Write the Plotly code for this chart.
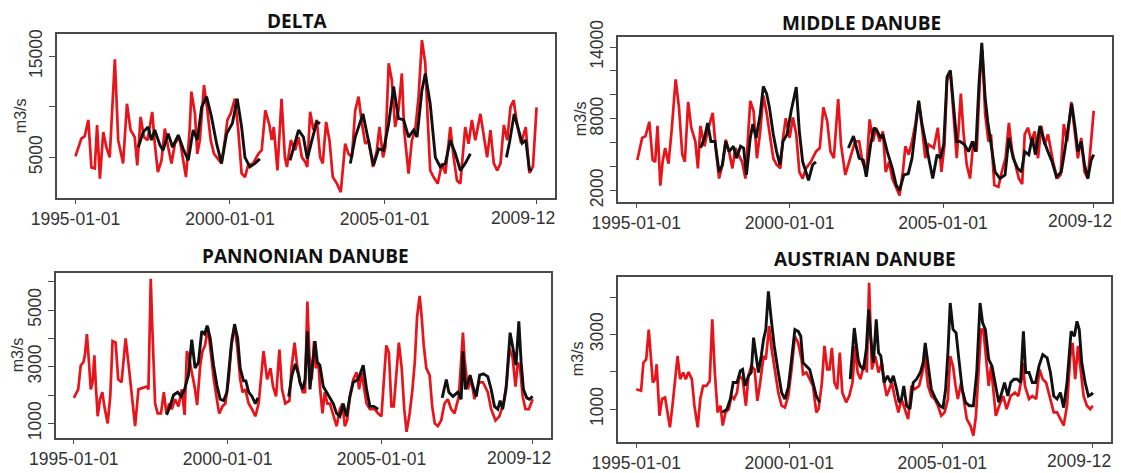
import numpy as np
import pandas as pd
import plotly.graph_objects as go

# ---------------- data (month offsets from 1995-01, discharge m3/s) ----------------
START = "1995-01-01"
END = "2009-12-01"

panel_titles = ["DELTA", "MIDDLE DANUBE", "PANNONIAN DANUBE", "AUSTRIAN DANUBE"]
x_tick_dates = ["1995-01-01", "2000-01-01", "2005-01-01", "2009-12-01"]
# the last label ("2009-12-01") is cut at the panel edge in the original: only "2009-12" shows
x_tick_text = ["1995-01-01", "2000-01-01", "2005-01-01", ""]
last_tick_label = "2009-12"

# DELTA simulated (red)
delta_sim_m = [0, 2.3, 3.6, 5, 6.2, 7.5, 8.4, 9.5, 10.8, 12, 13.3, 15.3, 16.6, 18.5, 20, 21.4, 23, 24, 25.3, 26.6, 28,
               29.8, 30.8, 32, 33.4, 34.7, 36, 37.3, 38.6, 40.3, 41.2, 42.9, 44.4, 45, 46.4, 47.3, 48.3, 49.9, 51.2,
               52.5, 53.8, 55, 56.7, 58, 59, 60.2, 61.9, 63.2, 64.5, 65.8, 67, 69, 71, 72.3, 73.7, 75.3, 76.2, 77,
               78.4, 80, 81.3, 82.1, 83.6, 85.3, 86.6, 87.9, 89.2, 90, 91.1, 92.4, 93.7, 95, 96, 97.3, 98.6, 99.9,
               101.5, 103, 104.7, 106, 107.3, 108.6, 109.9, 111.2, 112.5, 113.8, 115.5, 117, 118, 119.4, 120.3,
               121.6, 122.8, 124.1, 125.4, 126.7, 127.6, 129.3, 130.6, 131.9, 133.2, 134.5, 135.8, 136.7, 137.7,
               139, 140.6, 142.3, 143.6, 145.5, 146.8, 148.1, 149.4, 151.3, 152.6, 153.9, 155.2, 157.2, 158.5,
               159.8, 161.1, 162.4, 163.7, 165, 166.3, 167.6, 168.9, 170.1, 171.4, 173, 174.8, 176.2, 177.6, 179]
delta_sim_v = [5100, 6850, 7100, 8700, 4000, 3900, 8200, 2900, 7500, 6000, 5000, 14700, 6700, 4400, 10300, 7700, 7000,
               4200, 9000, 7000, 6700, 9500, 6350, 3550, 4700, 7850, 6000, 4400, 6350, 7000, 5700, 3050, 8000, 11500,
               9300, 5350, 6700, 12150, 9650, 6700, 5350, 5000, 4400, 6700, 8700, 9300, 10800, 7700, 3400, 3050, 4200,
               4400, 5350, 5700, 9650, 8200, 6700, 8000, 3700, 10800, 5000, 4050, 6700, 5700, 7000, 5000, 4550, 4050,
               9500, 7700, 8700, 5000, 4400, 8500, 6700, 3050, 2400, 1550, 6350, 5350, 5000, 9650, 11000, 8350, 6350,
               6700, 4050, 5700, 8000, 5000, 6000, 14300, 12650, 8000, 9650, 13300, 7700, 3400, 6700, 7700, 11000,
               16600, 14300, 9000, 3700, 3050, 2400, 4400, 3400, 8000, 5000, 2700, 2400, 8000, 6350, 8700, 6700, 9300,
               7350, 5000, 7700, 4400, 3700, 4400, 8200, 6700, 10000, 10650, 8350, 6400, 8000, 3450, 4100, 9950]
# DELTA observed (black), separate segments
delta_obs_m = [
    [24.4, 26.3, 28.2, 29.5, 30.8, 32.8, 34, 36, 37.7, 39.9, 41.8, 43.8, 45.7, 47.3, 49, 50.9, 52.8, 54.8, 56.7, 58.7,
     60.9, 62.8, 64.5, 65.8, 67.7, 69.7, 71.6],
    [83.3, 86.6, 88.5, 90, 91.8, 93.7, 95],
    [106.7, 108.6, 111.6, 113.8, 115.7, 117.7, 119.6, 121.6, 123.5, 125.4, 127.4, 129.3, 131.3, 132.6, 134.5, 135.8,
     137.7, 139.7, 141.6, 143.6, 145.5, 147.5, 149.4, 151.3, 153.3],
    [167.3, 168.5, 170.3, 172.5, 173.4, 174.8, 176.2, 177.2]]
delta_obs_v = [
    [6000, 7500, 8000, 6700, 7700, 6200, 5700, 7350, 6000, 7200, 5850, 4700, 7700, 6700, 10000, 11000, 9000, 6350,
     4400, 7350, 8350, 10800, 8000, 5000, 4050, 4400, 4850],
    [4700, 7700, 7000, 4850, 6700, 8500, 8350],
    [4400, 7000, 9300, 6700, 4200, 5850, 5700, 8350, 12000, 8850, 8700, 7000, 7700, 7000, 11650, 13300, 10300, 5000,
     4050, 4400, 6700, 5350, 3700, 4400, 5350],
    [5000, 6500, 9300, 7350, 6400, 6700, 3800, 3700]]

# MIDDLE DANUBE
middle_sim_m = [0.4, 2.3, 3.6, 5.1, 6.4, 7.4, 8.3, 9.4, 10.3, 11.3, 12.6, 13.8, 15.4, 16.7, 18, 19, 20.3, 21.5, 23.1,
                24.1, 25.1, 26.7, 27.9, 29.9, 31.2, 32.4, 33.7, 35, 36.3, 37.6, 38.8, 40.1, 41.4, 42.7, 43.7, 44.6,
                45.9, 47.2, 48.5, 49.7, 51, 52.3, 53.6, 54.9, 56.4, 57.4, 58.5, 60, 61.3, 62.6, 63.8, 65.1, 66.4, 68.3,
                70.3, 71.8, 73.2, 74.7, 76, 77.3, 79, 80.1, 81.8, 83.7, 85.6, 87.2, 88.5, 90, 91.3, 92.6, 93.9, 95.2,
                96.5, 97.6, 98.9, 100.2, 101.7, 103, 104.3, 105.3, 106.6, 107.9, 109.2, 110.5, 111.8, 113.1, 114.4,
                116.4, 118, 119.4, 120.6, 121.6, 122.9, 124.2, 125.4, 127, 128, 129.3, 130.6, 131.9, 133.2, 134.5,
                135.4, 136.5, 137.8, 138.8, 140.1, 141.7, 143, 144.5, 145.8, 147.1, 148.4, 149.7, 151, 152, 153.3,
                154.6, 155.9, 157.2, 158.5, 159.8, 161.1, 163.1, 164.7, 166, 167.3, 168.6, 170.2, 171.5, 172.8, 174.1,
                175.4, 176.7, 178, 179]
middle_sim_v = [4550, 6400, 6550, 7750, 4550, 4400, 7400, 2400, 4400, 5550, 4250, 6950, 11300, 8950, 5000, 4400, 9400,
                7250, 6100, 3850, 7400, 5700, 6950, 8500, 5250, 3000, 4150, 6250, 5250, 3850, 5550, 5000, 4400, 3000,
                6950, 9500, 8650, 4700, 6950, 9950, 8500, 6400, 4700, 4150, 3850, 6400, 8050, 6400, 8100, 6700, 3550,
                3000, 3850, 4400, 5250, 5550, 8950, 7800, 5250, 4700, 9650, 5850, 3300, 4700, 6100, 6100, 4400, 3550,
                7950, 6100, 7250, 6100, 6950, 3550, 4400, 3000, 2150, 1575, 3550, 5700, 5000, 6100, 7550, 9500, 7250,
                4700, 5850, 5550, 7250, 3550, 5850, 11200, 11900, 8100, 4700, 10100, 6950, 4150, 3000, 6100, 5250,
                11500, 13750, 8400, 6100, 6700, 2450, 2300, 3550, 4700, 7650, 5250, 4150, 3000, 2550, 6700, 7250, 6100,
                6950, 4700, 7400, 5850, 6700, 4400, 3000, 3300, 7550, 6100, 9400, 6950, 4700, 6400, 3550, 3000, 6100,
                8650]
middle_obs_m = [
    [25.1, 26.7, 27.9, 29.2, 30.8, 32.4, 33.7, 35, 36.3, 38, 39.2, 40.8, 42, 43.1, 44.6, 45.6, 46.9, 48.5, 49.7, 51,
     52.1, 53.6, 54.9, 56.2, 57.4, 59, 60.6, 62.6, 63.8, 65.1, 66.4, 67.4, 69, 70.3],
    [83, 85, 87.2, 88.8, 90, 91.7, 93, 94.3, 95.6, 96.5, 98.2, 100.2, 101.7, 103, 104.7, 106.4, 107.9, 109.5, 110.5,
     111.8, 113.1, 114.7, 116, 117.7, 119, 120.3, 121.6, 122.9, 124.2, 125.4, 126.7, 128.4, 130, 131.5, 132.8, 134.1,
     135.2, 136.5, 137.5, 138.8, 140.4, 142.3, 144.3, 145.8, 147.5, 149.2, 150.7, 152, 153.6, 154.9, 156.2, 157.9,
     159.6, 161.1, 162.7, 164.4, 166.3, 167.6, 169.2, 170.4, 171.7, 172.8, 174.1, 175.4, 176.7, 178, 179]]
middle_obs_v = [
    [5550, 6400, 7650, 6100, 6100, 3550, 4150, 6100, 5250, 5700, 4700, 5700, 5550, 3300, 6400, 7550, 6400, 8400, 10700,
     10100, 8950, 6700, 5250, 4150, 6100, 6700, 8650, 10650, 6950, 4400, 3550, 2850, 4150, 4400],
    [5550, 6550, 4700, 4550, 3150, 5850, 7250, 6950, 6400, 6700, 5250, 3850, 2450, 2000, 3300, 3400, 4700, 7550, 9500,
     7550, 6100, 4150, 3000, 5000, 4700, 5850, 11500, 12050, 8650, 6100, 6100, 5850, 5250, 6100, 5250, 10950, 14350,
     9800, 7800, 5850, 3550, 3000, 3300, 6400, 4700, 3850, 3550, 5250, 5000, 6400, 5000, 7400, 6100, 5250, 4400, 3150,
     3550, 5250, 7800, 9250, 7250, 5250, 6100, 4150, 3000, 4550, 5000]]

# PANNONIAN DANUBE
pann_sim_m = [0, 1.7, 2.7, 3.7, 4.3, 5.1, 5.9, 6.6, 7.3, 8, 8.6, 9.3, 10.2, 11.1, 11.9, 13.2, 14.2, 15.1, 16.3, 17.3,
              18.6, 20.2, 21.5, 22.6, 23.9, 25.2, 26.7, 28.4, 29.1, 30, 30.6, 31.7, 32.7, 34, 35.1, 36.1, 37.2, 38.2,
              39.5, 40.8, 42.1, 43.2, 44.1, 45, 46, 47.1, 48.1, 49.3, 50.2, 51.2, 52.3, 53.3, 54.6, 55.8, 56.7, 58,
              59.1, 60.4, 61.7, 62.7, 63.8, 64.9, 65.8, 66.9, 68.2, 69.5, 70.8, 72.1, 73.1, 74, 75.4, 76.7, 77.7, 78.9,
              80.2, 81.2, 82.5, 84.1, 84.9, 86.1, 87.1, 88.2, 89.3, 90.2, 91.1, 91.9, 92.8, 93.7, 94.4, 95.4, 96, 97,
              97.9, 98.9, 99.9, 101.2, 102.5, 103.8, 104.8, 105.7, 106.6, 107.7, 109, 110.3, 111.3, 112.2, 113.1,
              114.2, 115.5, 117.4, 118.7, 120, 120.9, 121.9, 122.9, 123.9, 124.8, 125.9, 126.8, 127.9, 128.9, 129.8,
              131, 132.1, 133, 133.9, 134.9, 135.7, 136.5, 137.5, 138.8, 139.8, 140.8, 142, 143.3, 144.6, 145.9,
              147.2, 148.5, 150.2, 151.8, 152.4, 153.7, 155, 156.3, 158, 159.6, 161.5, 162.8, 164.5, 166, 167.6,
              168.9, 169.9, 171.2, 172.3, 173.2, 174.1, 175.1, 176.2, 177.5, 179]
pann_sim_v = [1900, 2200, 3050, 3150, 3400, 4150, 3150, 2200, 2450, 3400, 2300, 1250, 1850, 2100, 1600, 1000, 1950,
              3900, 3850, 2550, 2450, 4000, 2950, 1950, 900, 2200, 2250, 2300, 2200, 6100, 4400, 1700, 1350, 1350, 2100,
              1350, 1700, 1500, 1850, 1600, 2200, 1300, 3550, 3300, 2800, 2300, 1650, 3050, 3550, 3750, 4400, 3550,
              2550, 1850, 1350, 1600, 1700, 2550, 4000, 4400, 3650, 2550, 2100, 2200, 1700, 1500, 1250, 1700, 2700,
              3550, 2550, 2950, 2300, 1950, 3600, 2200, 1700, 1800, 2950, 3850, 3050, 2450, 2100, 2100, 5300, 3400,
              2550, 3900, 2950, 3150, 2300, 1350, 2100, 1700, 1700, 1250, 900, 1500, 1700, 900, 1100, 1950, 2550, 2800,
              2200, 2800, 2300, 1700, 1500, 1500, 1350, 1250, 2450, 3750, 3500, 1600, 1600, 2950, 3850, 2950, 1500,
              700, 1350, 2200, 3150, 4750, 5500, 4750, 3750, 2950, 2700, 1600, 1000, 900, 1100, 1700, 1850, 1500, 1350,
              1950, 4200, 3300, 2200, 2550, 1850, 2450, 2450, 2100, 1500, 1100, 1250, 1700, 2450, 3650, 3300, 2300,
              3150, 2950, 1950, 1500, 1500, 1850]
pann_obs_m = [
    [36.2, 37.5, 38.9, 40.5, 41.9, 43.2, 44.7, 46, 47.3, 48.6, 49.9, 51, 52, 53.2, 54.5, 55.8, 57.1, 58.4, 59.7, 61.4,
     62.7, 63.9, 64.9, 66.2, 67.1, 68.2, 69.5, 70.8, 71.8],
    [83.8, 85.1, 86.4, 87.7, 88.2, 89.3, 90.2, 91.1, 92.1, 93.2, 94.1, 95, 96, 97.3, 98.6, 99.9, 101.2, 102.5, 103.8,
     105.1, 106.4, 107.7, 109, 110.9, 112.9, 114.2, 115.5, 117, 118.7],
    [143.7, 145.3, 146.3, 147.9, 149.8, 151.1, 151.8, 152.7, 153.7, 154.6, 155.7, 157, 158.3, 159.8, 161.5, 162.8,
     164.1, 165.4, 166.3, 167.3, 168.6, 170.2, 171.5, 172.5, 173.6, 174.5, 175.4, 176.7, 177.7, 179]]
pann_obs_v = [
    [1300, 1600, 2000, 2100, 1950, 2200, 2700, 3950, 2950, 3150, 4250, 4150, 4450, 4000, 3050, 2350, 1850, 1800, 2100,
     3750, 4500, 4000, 2950, 2500, 2500, 2100, 1950, 1700, 1900],
    [1950, 2700, 3100, 2700, 2450, 2200, 2550, 4250, 2200, 3050, 3900, 3150, 3050, 2300, 2100, 1950, 1700, 1350, 1250,
     1700, 1250, 1950, 2450, 2550, 3050, 2200, 1600, 1600, 1500],
    [1900, 2550, 2100, 1950, 2100, 1850, 3550, 2200, 2450, 2700, 2300, 1950, 2700, 2750, 2650, 2200, 1600, 1500, 1800,
     1500, 2200, 4200, 3550, 3050, 4600, 3150, 2200, 1900, 1850, 1950]]

# AUSTRIAN DANUBE
aust_sim_m = [0, 1.9, 2.8, 3.9, 4.9, 5.7, 6.5, 7.4, 8, 9.1, 10.1, 11.3, 12.2, 13.2, 14.2, 15.3, 16.2, 17.2, 18.4,
              19.4, 20.5, 21.8, 22.8, 24.1, 25.1, 26.2, 27.5, 28.8, 29.8, 30.8, 31.9, 33, 33.9, 35, 36.3, 37.3, 38.3,
              39.5, 40.4, 41.7, 43, 44, 45.1, 46.4, 47.5, 48.6, 49.9, 50.8, 52.1, 53.1, 54.4, 55.7, 57, 58.3, 59.6,
              60.9, 62.2, 63.5, 64.8, 65.4, 66.7, 68, 69.3, 70.6, 71.5, 72.8, 73.8, 74.9, 75.8, 76.7, 77.7, 78.8, 79.8,
              80.8, 82.3, 83.5, 84.8, 85.8, 86.8, 87.9, 89.8, 90.4, 91.3, 92.4, 93.7, 95, 96.3, 97.2, 98.2, 99.2,
              100.2, 101.5, 102.8, 104, 105.3, 106.6, 107.9, 109.2, 110.9, 112.2, 113.1, 114.4, 115.7, 117, 118.3,
              119.6, 120.9, 122.2, 123.1, 124.2, 125.2, 126.1, 127.4, 128.3, 129.6, 131, 132.2, 133.2, 134.3, 135.2,
              136.1, 137.1, 138.2, 139.1, 140, 141, 142.3, 143.9, 145.2, 146.8, 148.5, 149.8, 151.1, 151.6, 152.4, 154,
              155.3, 156.8, 158.1, 159.4, 160.7, 162.4, 163.7, 165, 166.3, 167.6, 168.9, 170.2, 171.1, 172.1, 173.2,
              174.1, 175.4, 176.7, 178, 179]
aust_sim_v = [1530, 1490, 2240, 2330, 3130, 2510, 1710, 1800, 2200, 820, 1270, 1310, 910, 510, 1090, 1800, 2420, 1800,
              1980, 1800, 1990, 1800, 1090, 510, 1270, 1620, 1620, 1750, 3400, 1980, 910, 1090, 560, 910, 1000, 1350,
              1270, 1440, 1890, 1800, 1090, 1890, 2150, 2060, 1220, 1710, 2420, 2330, 3220, 2600, 2060, 1440, 1090,
              1040, 1350, 2060, 2950, 2770, 2330, 1930, 1980, 1800, 1620, 910, 1000, 1710, 2690, 2060, 2060, 2640, 1710,
              1530, 2510, 1440, 1180, 1350, 1710, 2690, 1980, 1800, 2330, 1980, 4380, 2060, 2420, 1980, 2240, 1710,
              1350, 1530, 1710, 1270, 910, 1270, 1000, 730, 1620, 1530, 1620, 1980, 2420, 1620, 1350, 1270, 1090, 820,
              910, 1270, 2420, 2150, 1620, 1270, 1710, 1270, 730, 560, 290, 820, 2240, 3130, 3130, 2330, 1620, 2150,
              1440, 820, 1090, 1350, 1000, 1350, 1440, 1350, 1800, 2240, 1620, 1270, 1350, 1270, 2060, 1800, 1710,
              1270, 910, 910, 730, 560, 1090, 2420, 2770, 1800, 2690, 2150, 1350, 1090, 1000, 1090]
aust_obs_m = [
    [33.7, 35.6, 36.9, 38, 39.5, 40.8, 41.7, 42.7, 44, 45.1, 46, 46.9, 47.9, 49, 49.9, 50.8, 51.8, 52.8, 54.1, 55.7, 57,
     58.3, 59.6, 60.9, 62.2, 63.5, 64.5, 65.4, 66.7, 68, 69.3, 70.6, 71.9],
    [83.9, 85.5, 87, 87.8, 89.1, 90.2, 91.1, 92, 93, 94.1, 95, 95.9, 97.2, 98.5, 99.8, 100.8, 102.1, 103.1, 104, 104.9,
     106, 107.3, 108.6, 109.9, 111.4, 112.5, 113.3, 114.4, 115.7, 117.4, 119, 120.3, 121.3, 122.2, 123.1, 124.2, 125.4,
     126.5, 127.8, 129.1, 130.6, 132.2, 133.5, 134.8, 135.8, 136.9, 138.2, 139.5, 140.8, 142.1, 143.3, 144.4, 145.7,
     146.8, 148.1, 149.4, 150.7, 151.8, 152.7, 154, 155.3, 156.6, 157.9, 159.4, 161.1, 162.4, 163.7, 165, 166.3, 167.6,
     168.9, 170.5, 171.8, 172.8, 173.7, 174.7, 176, 177.3, 178.6, 179]]
aust_obs_v = [
    [910, 1000, 1270, 1710, 1710, 2020, 2060, 1620, 1890, 1980, 2910, 2510, 1980, 2420, 2860, 3130, 4150, 3480, 2690,
     1980, 1440, 1270, 1580, 2330, 3130, 3080, 2950, 2240, 2150, 2060, 1710, 1350, 1180],
    [1800, 3170, 2330, 2150, 2060, 2600, 3660, 2860, 2240, 3400, 2510, 2420, 1710, 1890, 1710, 1890, 1530, 1180, 1270,
     1620, 1090, 1000, 1710, 1800, 1980, 2240, 2770, 2150, 1530, 1270, 1090, 1040, 1530, 2510, 3840, 3130, 3040, 2330,
     1530, 1180, 1090, 1090, 1980, 3840, 3310, 3130, 2330, 2150, 1620, 1180, 1440, 1710, 1350, 1710, 1800, 1800, 1710,
     3080, 1980, 1980, 1710, 1710, 2150, 2460, 2370, 1980, 1350, 1270, 1440, 1040, 1710, 3080, 2950, 3350, 3130, 2240,
     1710, 1350, 1400, 1440]]

# y-axis ticks (R drops overlapping labels)
delta_ticks, delta_labels = [5000, 10000, 15000], ["5000", "", "15000"]
middle_ticks, middle_labels = [2000, 4000, 6000, 8000, 10000, 12000, 14000], ["2000", "", "", "8000", "", "", "14000"]
pann_ticks, pann_labels = [1000, 2000, 3000, 4000, 5000, 6000], ["1000", "", "3000", "", "5000", ""]
aust_ticks, aust_labels = [1000, 2000, 3000, 4000], ["1000", "", "3000", ""]

# ---------------- layout helpers ----------------
W, H = 1121, 473
BASE = pd.Timestamp(START)
DAYS_PER_MONTH = 30.4375


def to_dates(months):
    return [(BASE + pd.Timedelta(days=m * DAYS_PER_MONTH)).strftime("%Y-%m-%d %H:%M") for m in months]


def seg_xy(seg_m, seg_v):
    xs, ys = [], []
    for i, (mm, vv) in enumerate(zip(seg_m, seg_v)):
        if i:
            xs.append(None)
            ys.append(None)
        xs += to_dates(mm)
        ys += list(vv)
    return xs, ys


panels = [
    dict(title=panel_titles[0], sim=(delta_sim_m, delta_sim_v), obs=(delta_obs_m, delta_obs_v),
         ticks=(delta_ticks, delta_labels), box=(57, 555, 34, 198.3), title_xy=(297, 21), ylab_x=20),
    dict(title=panel_titles[1], sim=(middle_sim_m, middle_sim_v), obs=(middle_obs_m, middle_obs_v),
         ticks=(middle_ticks, middle_labels), box=(618, 1112, 36.7, 201.7), title_xy=(861, 23), ylab_x=580),
    dict(title=panel_titles[2], sim=(pann_sim_m, pann_sim_v), obs=(pann_obs_m, pann_obs_v),
         ticks=(pann_ticks, pann_labels), box=(55.5, 551, 272.7, 438), title_xy=(305, 256), ylab_x=17),
    dict(title=panel_titles[3], sim=(aust_sim_m, aust_sim_v), obs=(aust_obs_m, aust_obs_v),
         ticks=(aust_ticks, aust_labels), box=(618, 1111, 276.7, 441.7), title_xy=(865, 259), ylab_x=577),
]

fig = go.Figure()
d0, d1 = pd.Timestamp(START), pd.Timestamp(END)
pad = (d1 - d0) * 0.04
xrange = [(d0 - pad).strftime("%Y-%m-%d %H:%M"), (d1 + pad).strftime("%Y-%m-%d %H:%M")]

RED = "#e8141a"
BLACK = "#111111"
AX_COLOR = "#4a4a4a"
TICK_FONT = dict(family="Liberation Sans, Arial, sans-serif", size=17.5, color="#333333")

for i, p in enumerate(panels):
    k = "" if i == 0 else str(i + 1)
    xa, ya = "x" + k, "y" + k
    sm, sv = p["sim"]
    fig.add_trace(go.Scatter(x=to_dates(sm), y=sv, mode="lines", line=dict(color=RED, width=2.7),
                             xaxis=xa, yaxis=ya, showlegend=False, hoverinfo="skip"))
    ox, oy = seg_xy(*p["obs"])
    fig.add_trace(go.Scatter(x=ox, y=oy, mode="lines", line=dict(color=BLACK, width=2.9),
                             connectgaps=False, xaxis=xa, yaxis=ya, showlegend=False, hoverinfo="skip"))

    all_v = list(sv) + [v for seg in p["obs"][1] for v in seg]
    vmin, vmax = min(all_v), max(all_v)
    ypad = (vmax - vmin) * 0.04

    x0, x1, y0, y1 = p["box"]
    tv, tt = p["ticks"]
    fig.layout["xaxis" + k] = dict(
        domain=[x0 / W, x1 / W], anchor=ya, type="date", range=xrange, automargin=False,
        tickmode="array", tickvals=x_tick_dates, ticktext=x_tick_text,
        ticks="outside", ticklen=4, tickcolor=AX_COLOR, tickwidth=1.2,
        showline=True, linecolor=AX_COLOR, linewidth=1.6, mirror=True, showgrid=False, zeroline=False,
        tickfont=TICK_FONT, tickangle=0)
    fig.layout["yaxis" + k] = dict(
        domain=[1 - y1 / H, 1 - y0 / H], anchor=xa, range=[vmin - ypad, vmax + ypad], automargin=False,
        tickmode="array", tickvals=tv, ticktext=tt, tickangle=-90, ticklabeloverflow="allow",
        ticks="outside", ticklen=6, tickcolor=AX_COLOR, tickwidth=1.2,
        showline=True, linecolor=AX_COLOR, linewidth=1.6, mirror=True, showgrid=False, zeroline=False,
        tickfont=TICK_FONT)

    # visible part of the clipped last date label
    fig.add_annotation(x=x_tick_dates[-1], xref=xa, y=1 - (y1 + 19.5) / H, yref="paper",
                       text=last_tick_label, showarrow=False, xanchor="right", yanchor="middle",
                       xshift=20, font=TICK_FONT)

    tx, ty = p["title_xy"]
    fig.add_annotation(x=tx / W, y=1 - ty / H, xref="paper", yref="paper", text="<b>%s</b>" % p["title"],
                       showarrow=False, xanchor="center", yanchor="middle",
                       font=dict(family="Open Sans, sans-serif", size=19, color="#111111"))
    fig.add_annotation(x=p["ylab_x"] / W, y=1 - (y0 + y1) / 2 / H, xref="paper", yref="paper", text="m3/s",
                       textangle=-90, showarrow=False, xanchor="center", yanchor="middle",
                       font=dict(family="Liberation Sans, Arial, sans-serif", size=16, color="#333333"))

fig.update_layout(width=W, height=H, margin=dict(l=0, r=0, t=0, b=0),
                  paper_bgcolor="white", plot_bgcolor="white")
fig.write_html("out.html")
